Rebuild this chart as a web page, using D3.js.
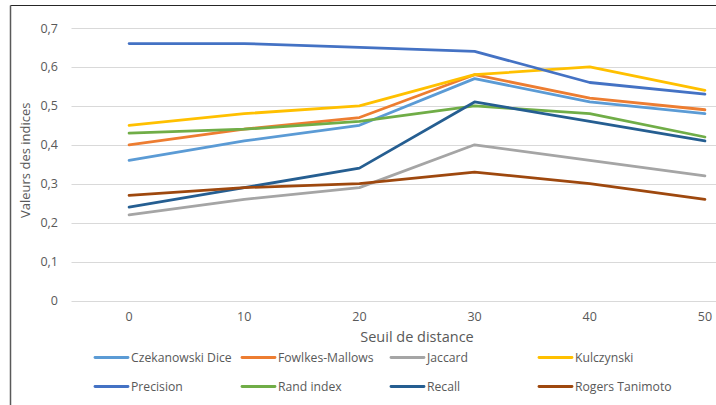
<!DOCTYPE html>
<html>
<head>
<meta charset="utf-8">
<script src="https://cdn.jsdelivr.net/npm/d3@7"></script>
<style>
  html, body { margin: 0; padding: 0; background: #fff; }
  svg { display: block; font-family: "Open Sans", "Liberation Sans", sans-serif; }
</style>
</head>
<body>
<svg id="chart" width="716" height="405"></svg>
<script>
// Distance thresholds on the x axis
const thresholds = ["0", "10", "20", "30", "40", "50"];
const yTicks = [0, 0.1, 0.2, 0.3, 0.4, 0.5, 0.6, 0.7];

// Index values per threshold
const czekanowskiDice = [0.36, 0.41, 0.45, 0.57, 0.51, 0.48];
const fowlkesMallows  = [0.40, 0.44, 0.47, 0.58, 0.52, 0.49];
const jaccard         = [0.22, 0.26, 0.29, 0.40, 0.36, 0.32];
const kulczynski      = [0.45, 0.48, 0.50, 0.58, 0.60, 0.54];
const precision       = [0.66, 0.66, 0.65, 0.64, 0.56, 0.53];
const randIndex       = [0.43, 0.44, 0.46, 0.50, 0.48, 0.42];
const recall          = [0.24, 0.29, 0.34, 0.51, 0.46, 0.41];
const rogersTanimoto  = [0.27, 0.29, 0.30, 0.33, 0.30, 0.26];

const seriesNames = ["Czekanowski Dice", "Fowlkes-Mallows", "Jaccard", "Kulczynski",
                     "Precision", "Rand index", "Recall", "Rogers Tanimoto"];
const seriesValues = [czekanowskiDice, fowlkesMallows, jaccard, kulczynski,
                      precision, randIndex, recall, rogersTanimoto];
const seriesColors = ["#5B9BD5", "#ED7D31", "#A5A5A5", "#FFC000",
                      "#4472C4", "#70AD47", "#255E91", "#9E480E"];

const svg = d3.select("#chart");
const textColor = "#595959";

// Chart frame (top and left edges of the chart area)
svg.append("line").attr("x1", 10.5).attr("x2", 716).attr("y1", 5.5).attr("y2", 5.5)
  .attr("stroke", "#262626").attr("stroke-width", 1.2);
svg.append("line").attr("x1", 10.5).attr("x2", 10.5).attr("y1", 5.5).attr("y2", 405)
  .attr("stroke", "#595959").attr("stroke-width", 1.5);

const plot = { left: 71.5, right: 762.5, top: 28, bottom: 300.5 };

const x = d3.scaleBand().domain(thresholds).range([plot.left, plot.right]);
const y = d3.scaleLinear().domain([0, 0.7]).range([plot.bottom, plot.top]);
const fmt = v => d3.format(".1f")(v).replace(".", ",");

// Horizontal gridlines
svg.append("g").selectAll("line").data(yTicks).join("line")
  .attr("x1", plot.left).attr("x2", plot.right)
  .attr("y1", d => Math.round(y(d)) + 0.5).attr("y2", d => Math.round(y(d)) + 0.5)
  .attr("stroke", "#D9D9D9").attr("stroke-width", 1);

// Y axis labels
const yAxis = d3.axisLeft(y).tickValues(yTicks).tickSize(0).tickPadding(0)
  .tickFormat(d => d === 0 ? "0" : fmt(d));
svg.append("g").attr("transform", `translate(58,0)`).call(yAxis)
  .call(g => g.select(".domain").remove())
  .call(g => g.selectAll("text").attr("fill", textColor).attr("font-size", 12.5)
    .attr("font-family", "'Open Sans', sans-serif"));

// X axis labels
const xAxis = d3.axisBottom(x).tickSize(0).tickPadding(0);
svg.append("g").attr("transform", `translate(0,312)`).call(xAxis)
  .call(g => g.select(".domain").remove())
  .call(g => g.selectAll("text").attr("fill", textColor).attr("font-size", 12.5)
    .attr("font-family", "'Open Sans', sans-serif"));

// Axis titles
svg.append("text").attr("x", (plot.left + plot.right) / 2).attr("y", 342)
  .attr("text-anchor", "middle").attr("fill", textColor).attr("font-size", 14.5)
  .text("Seuil de distance");
svg.append("text").attr("transform", `translate(30,${(plot.top + plot.bottom) / 2 - 4}) rotate(-90)`)
  .attr("text-anchor", "middle").attr("fill", textColor).attr("font-size", 13)
  .text("Valeurs des indices");

// Series lines
const line = d3.line()
  .x((d, i) => x(thresholds[i]) + x.bandwidth() / 2)
  .y(d => y(d));
svg.append("g").selectAll("path").data(seriesValues).join("path")
  .attr("d", d => line(d))
  .attr("fill", "none")
  .attr("stroke", (d, i) => seriesColors[i])
  .attr("stroke-width", 2.8)
  .attr("stroke-linejoin", "round")
  .attr("stroke-linecap", "round");

// Legend: 4 columns x 2 rows
const legend = svg.append("g");
const colX = [95, 242, 391, 539];
const rowY = [357.5, 386.5];
const items = legend.selectAll("g").data(seriesNames).join("g")
  .attr("transform", (d, i) => `translate(${colX[i % 4]},${rowY[Math.floor(i / 4)]})`);
items.append("line").attr("x1", 0).attr("x2", 33).attr("y1", 0).attr("y2", 0)
  .attr("stroke", (d, i) => seriesColors[i]).attr("stroke-width", 2.8)
  .attr("stroke-linecap", "round");
items.append("text").attr("x", 36).attr("y", 0).attr("dy", "0.35em")
  .attr("fill", textColor).attr("font-size", 12.2)
  .text(d => d);
</script>
</body>
</html>
